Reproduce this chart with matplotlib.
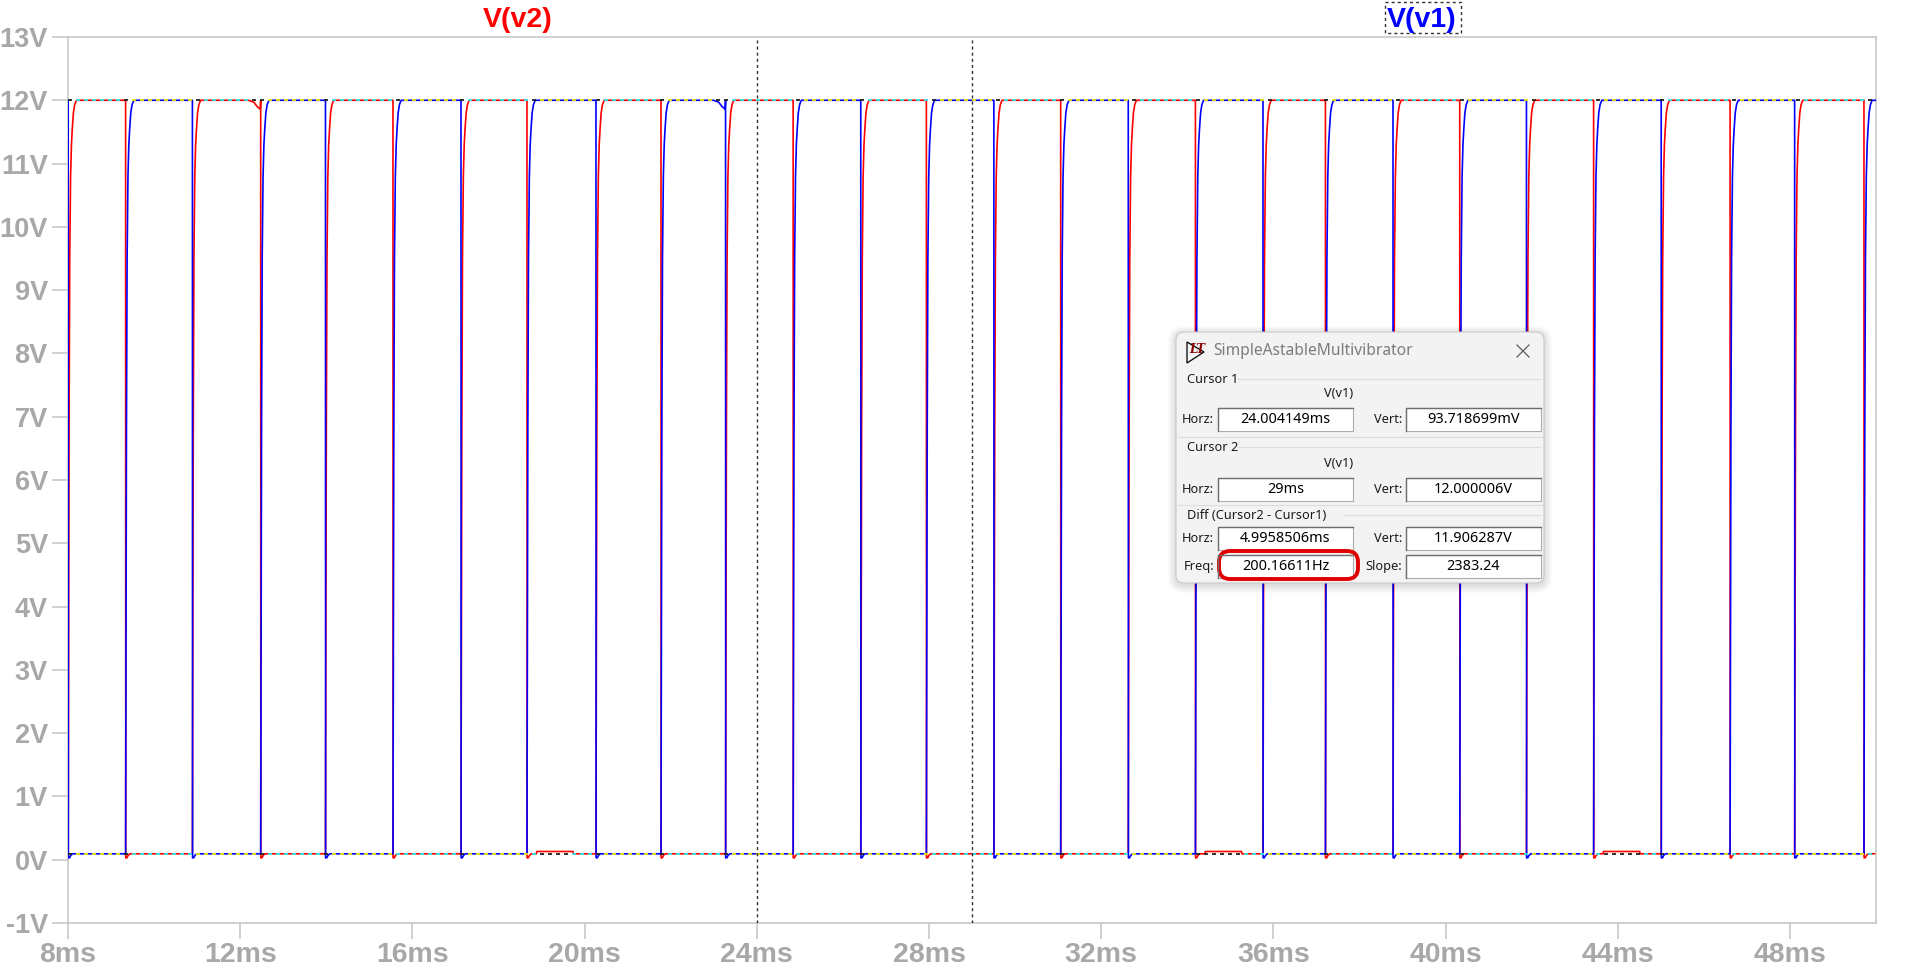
import numpy as np
import matplotlib.pyplot as plt
from matplotlib.patches import FancyBboxPatch, Rectangle, Polygon
from matplotlib.collections import LineCollection

# ---- data ----
# switching instants (ms); at each one trace falls and the other rises
edge_ms = [8.005, 9.338, 10.890, 12.476, 13.981, 15.549, 17.129, 18.662,
           20.265, 21.775, 23.275, 24.845, 26.416, 27.940, 29.508, 31.060,
           32.630, 34.190, 35.760, 37.210, 38.780, 40.330, 41.880, 43.440,
           45.010, 46.610, 48.110, 49.720]
first_fall = "v1"          # V(v1) falls at the first edge, then alternate
v_high = 12.0
v_low = 0.0937

# shape of one rising collector edge (offset ms, volts)
rise_dt = [0.0, 0.01, 0.02, 0.035, 0.055, 0.075, 0.095, 0.12, 0.15, 0.19]
rise_v = [0.0937, 3.5, 6.8, 9.5, 10.8, 11.3, 11.55, 11.8, 11.93, 12.0]
# falling edge with its small undershoot
fall_dt = [0.0, 0.003, 0.03, 0.06, 0.1]
fall_v = [12.0, 0.03, 0.03, 0.07, 0.0937]
# slight sag seen before a couple of falls
droop_edges = [12.476, 23.275]
droop_dt = [-0.28, -0.16, -0.08, -0.01]
droop_v = [12.0, 11.97, 11.9, 11.86]
# V(v2) low level sits a bit higher in these windows
raised_v2 = [(18.88, 19.74), (34.41, 35.27), (43.66, 44.52)]
v_raised = 0.13

cursor_ms = [24.004149, 29.0]
cursor_v = [0.093718699, 12.000006]

y_ticks = list(range(-1, 14))
y_labels = [f"{v}V" for v in y_ticks]
x_ticks = [8, 12, 16, 20, 24, 28, 32, 36, 40, 44, 48]
x_labels = [f"{v}ms" for v in x_ticks]

dlg_title = "SimpleAstableMultivibrator"
dlg_rows = [
    ("Horz:", "24.004149ms", "Vert:", "93.718699mV"),
    ("Horz:", "29ms", "Vert:", "12.000006V"),
    ("Horz:", "4.9958506ms", "Vert:", "11.906287V"),
    ("Freq:", "200.16611Hz", "Slope:", "2383.24"),
]

RED = "#ff0000"
BLUE = "#0000ff"
W, H = 1906, 980


def build_trace(name):
    pts = []
    falls_first = (name == first_fall)
    pts.append((7.5, v_high if falls_first else v_low))
    for i, t in enumerate(edge_ms):
        falling = (i % 2 == 0) == falls_first
        if falling:
            if t in droop_edges:
                pts += [(t + d, v) for d, v in zip(droop_dt, droop_v)]
            pts += [(t + d, v) for d, v in zip(fall_dt, fall_v)]
        else:
            pts += [(t + d, v) for d, v in zip(rise_dt, rise_v)]
    pts.append((50.5, pts[-1][1]))
    if name == "v2":
        for a, b in raised_v2:
            pts += [(a, v_low), (a + 0.01, v_raised), (b - 0.01, v_raised), (b, v_low)]
    pts.sort(key=lambda p: p[0])
    t = np.array([p[0] for p in pts])
    v = np.array([p[1] for p in pts])
    return t, v


t2, v2 = build_trace("v2")
t1, v1 = build_trace("v1")

fig = plt.figure(figsize=(W / 100, H / 100), dpi=100)
ax = fig.add_axes([68 / W, 1 - 923 / H, (1876 - 68) / W, (923 - 37) / H])

ax.plot(t2, v2, color=RED, lw=1.2, zorder=2)
ax.plot(t1, v1, color=BLUE, lw=1.2, zorder=3)

# XOR-style dashed cursor lines: complementary colour over a trace, black over white
period = 8 / 43.05
starts = np.arange(8.0, 50.0, period)
for level in cursor_v:
    segs, cols = [], []
    for s in starts:
        m = s + period / 4
        b = np.interp(m, t1, v1)
        r = np.interp(m, t2, v2)
        if abs(b - level) < 0.02:
            c = "#f0ea00"
        elif abs(r - level) < 0.02:
            c = "#2ee8e8"
        else:
            c = "#202020"
        segs.append([(s, level), (s + period / 2, level)])
        cols.append(c)
    ax.add_collection(LineCollection(segs, colors=cols, linewidths=1.3, zorder=4))

for cx in cursor_ms:
    ax.axvline(cx, color="#303030", lw=1.0, dashes=(2.2, 2.2), zorder=5)

ax.set_xlim(8, 50)
ax.set_ylim(-1, 13)
ax.set_xticks(x_ticks, x_labels)
ax.set_yticks(y_ticks, y_labels)
for s in ax.spines.values():
    s.set_color("#c4c4c4")
    s.set_linewidth(1.1)
ax.tick_params(axis="both", direction="out", length=11.5, width=1.1,
               color="#c4c4c4", labelcolor="#a8a8a8")
ax.tick_params(axis="y", labelsize=19.5, pad=3)
ax.tick_params(axis="x", labelsize=20.5, pad=2)
for lab in ax.get_xticklabels() + ax.get_yticklabels():
    lab.set_fontfamily("Liberation Sans")
    lab.set_fontweight("bold")

# overlay in pixel coordinates for labels and the cursor dialog
ov = fig.add_axes([0, 0, 1, 1], zorder=10)
ov.set_xlim(0, W)
ov.set_ylim(H, 0)
ov.axis("off")

ov.text(518, 27, "V(v2)", color=RED, fontsize=20.5, fontweight="bold",
        family="Liberation Sans", ha="center", va="baseline")
ov.text(1422, 27, "V(v1)", color=BLUE, fontsize=20.5, fontweight="bold",
        family="Liberation Sans", ha="center", va="baseline")
ov.add_patch(Rectangle((1385, 2), 76, 31, fill=False, ec="#303030", lw=1.0,
                       ls=(0, (2.2, 2.2))))

# dialog
x0, y0, dw, dh = 1176, 332, 368, 251
for k in range(1, 9):
    ov.add_patch(FancyBboxPatch((x0 - k, y0 - k + 2), dw + 2 * k, dh + 2 * k,
                                boxstyle=f"round,pad=0,rounding_size={8 + k}",
                                fc="black", ec="none", alpha=0.014))
ov.add_patch(FancyBboxPatch((x0, y0), dw, dh, boxstyle="round,pad=0,rounding_size=8",
                            fc="#f3f3f3", ec="#c9c9c9", lw=0.8))
# LTspice icon
ov.add_patch(Polygon([(1187, 342), (1187, 363), (1204, 352)], closed=True,
                     fill=False, ec="black", lw=0.9))
ov.text(1197, 349, "LT", color="#8b0000", fontsize=8.5, fontweight="bold",
        style="italic", family="DejaVu Serif", ha="center", va="center")
ov.text(1213, 351, dlg_title, color="#7c7c7c", fontsize=11.2,
        family="Noto Sans", va="center")
ov.plot([1517, 1529], [345, 357], color="#5a5a5a", lw=0.9)
ov.plot([1517, 1529], [357, 345], color="#5a5a5a", lw=0.9)

DF = "Noto Sans"
groups = [("Cursor 1", 379, 1238), ("Cursor 2", 447, 1238), ("Diff (Cursor2 - Cursor1)", 515, 1344)]
for txt, gy, gx in groups:
    ov.text(1187, gy, txt, fontsize=9.2, family=DF, va="center", color="#1a1a1a")
    ov.plot([gx, 1540], [gy, gy], color="#dcdcdc", lw=0.8)
for gy in [437, 505]:
    ov.plot([1178, 1542], [gy, gy], color="#dcdcdc", lw=0.8)
for vy in [393, 463]:
    ov.text(1339, vy, "V(v1)", fontsize=9.2, family=DF, ha="center", va="center",
            color="#1a1a1a")

row_y = [419, 489, 538, 566]
for (l1, f1, l2, f2), ry in zip(dlg_rows, row_y):
    ov.text(1214, ry, l1, fontsize=9.2, family=DF, ha="right", va="center", color="#1a1a1a")
    ov.text(1402, ry, l2, fontsize=9.2, family=DF, ha="right", va="center", color="#1a1a1a")
    for fx0, val in [(1218, f1), (1406, f2)]:
        ov.add_patch(Rectangle((fx0, ry - 11.5), 135, 23, fc="white", ec="#adadad", lw=0.8))
        ov.plot([fx0, fx0, fx0 + 135], [ry + 11.5, ry - 11.5, ry - 11.5],
                color="#6e6e6e", lw=1.0)
        ov.text(fx0 + 67.5, ry + 0.5, val, fontsize=10.4, family=DF, ha="center",
                va="center", color="black")

# hand-drawn highlight around the frequency
ov.add_patch(FancyBboxPatch((1219, 551), 139, 28, boxstyle="round,pad=0,rounding_size=11",
                            fill=False, ec="#e00000", lw=2.8))

fig.savefig("out.png", dpi=100)
